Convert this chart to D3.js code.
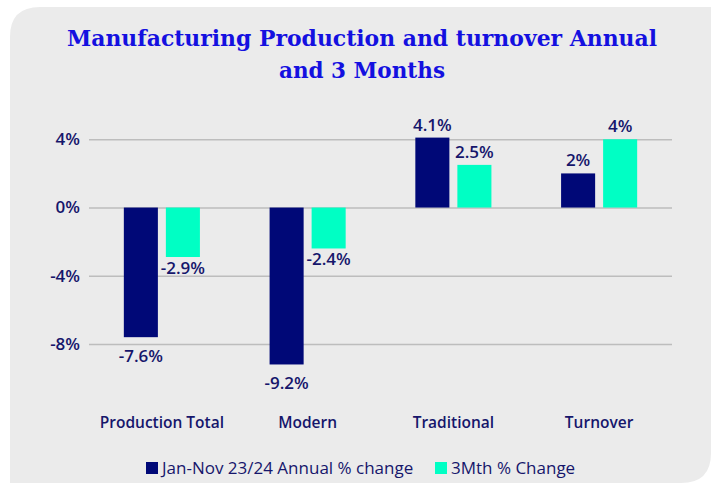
<!DOCTYPE html>
<html>
<head>
<meta charset="utf-8">
<script src="https://cdn.jsdelivr.net/npm/d3@7"></script>
<style>
  body { margin: 0; background: #ffffff; }
  svg text { font-family: "Open Sans", sans-serif; }
</style>
</head>
<body>
<div id="chart"></div>
<script>
var categories = ["Production Total", "Modern", "Traditional", "Turnover"];
var series = ["Jan-Nov 23/24 Annual % change", "3Mth % Change"];
var annual = [-7.6, -9.2, 4.1, 2];
var threeMonth = [-2.9, -2.4, 2.5, 4];
var yTicks = [-8, -4, 0, 4];
var titleLines = ["Manufacturing Production and turnover Annual", "and 3 Months"];

var colours = ["#000877", "#00FFC4"];
var textColour = "#16166b";

var width = 714;
var height = 485;
var margin = { top: 139, right: 42, bottom: 141, left: 89 };

var svg = d3.select("#chart")
  .append("svg")
  .attr("width", width)
  .attr("height", height);

// panel with rounded top-left and bottom-right corners
var px0 = 10, py0 = 7, px1 = 711, py1 = 483, r = 30;
svg.append("path")
  .attr("d", `M${px0},${py0 + r} Q${px0},${py0} ${px0 + r},${py0} L${px1},${py0} L${px1},${py1 - r} Q${px1},${py1} ${px1 - r},${py1} L${px0},${py1} Z`)
  .attr("fill", "#ebebeb");

// title
var titleWidths = [590, 166];
svg.selectAll("text.title")
  .data(titleLines)
  .join("text")
  .attr("class", "title")
  .attr("x", 362)
  .attr("y", (d, i) => 46 + i * 32)
  .attr("text-anchor", "middle")
  .attr("textLength", (d, i) => titleWidths[i])
  .attr("lengthAdjust", "spacingAndGlyphs")
  .style("font-family", "'DejaVu Serif', serif")
  .style("font-size", "23px")
  .style("font-weight", "bold")
  .attr("fill", "#1410e0")
  .text(d => d);

var x0 = d3.scaleBand()
  .domain(categories)
  .range([margin.left, width - margin.right])
  .paddingInner(0.478)
  .paddingOuter(0.239);

var x1 = d3.scaleBand()
  .domain(series)
  .range([0, x0.bandwidth()])
  .paddingInner(0.19);

var y = d3.scaleLinear()
  .domain([-8, 4])
  .range([344, 139.3]);

// gridlines + y labels
var yAxis = d3.axisLeft(y)
  .tickValues(yTicks)
  .tickSize(-(width - margin.right - margin.left))
  .tickPadding(9)
  .tickFormat(d => d + "%");

var gy = svg.append("g")
  .attr("transform", `translate(${margin.left},0)`)
  .call(yAxis);
gy.select(".domain").remove();
gy.selectAll(".tick line").attr("stroke", "#bdbdbd").attr("stroke-width", 1.5);
gy.selectAll(".tick text")
  .attr("fill", textColour)
  .style("font-size", "17px")
  .style("font-weight", 600);

var rows = categories.map((c, i) => ({ cat: c, values: [annual[i], threeMonth[i]] }));
var negOffset = [25, 17];

var groups = svg.selectAll("g.cat")
  .data(rows)
  .join("g")
  .attr("class", "cat")
  .attr("transform", d => `translate(${x0(d.cat)},0)`);

groups.selectAll("rect")
  .data(d => d.values.map((v, j) => ({ key: series[j], value: v, j: j })))
  .join("rect")
  .attr("x", d => x1(d.key))
  .attr("width", x1.bandwidth())
  .attr("y", d => y(Math.max(0, d.value)))
  .attr("height", d => Math.abs(y(d.value) - y(0)))
  .attr("fill", d => colours[d.j]);

groups.selectAll("text.val")
  .data(d => d.values.map((v, j) => ({ key: series[j], value: v, j: j })))
  .join("text")
  .attr("class", "val")
  .attr("x", d => x1(d.key) + x1.bandwidth() / 2)
  .attr("y", d => d.value < 0 ? y(d.value) + negOffset[d.j] : y(d.value) - 7)
  .attr("text-anchor", "middle")
  .attr("fill", textColour)
  .style("font-size", "17px")
  .style("font-weight", 600)
  .text(d => d.value + "%");

// category labels
svg.selectAll("text.catlabel")
  .data(categories)
  .join("text")
  .attr("class", "catlabel")
  .attr("x", d => x0(d) + x0.bandwidth() / 2)
  .attr("y", 428)
  .attr("text-anchor", "middle")
  .attr("fill", textColour)
  .style("font-size", "15.5px")
  .style("font-weight", 600)
  .text(d => d);

// legend
var legendX = [146, 435];
var legend = svg.selectAll("g.legend")
  .data(series)
  .join("g")
  .attr("class", "legend")
  .attr("transform", (d, i) => `translate(${legendX[i]},462)`);
legend.append("rect")
  .attr("width", 12)
  .attr("height", 12)
  .attr("fill", (d, i) => colours[i]);
legend.append("text")
  .attr("x", 16)
  .attr("y", 12)
  .attr("fill", textColour)
  .style("font-size", "17px")
  .style("font-weight", 500)
  .text(d => d);
</script>
</body>
</html>
